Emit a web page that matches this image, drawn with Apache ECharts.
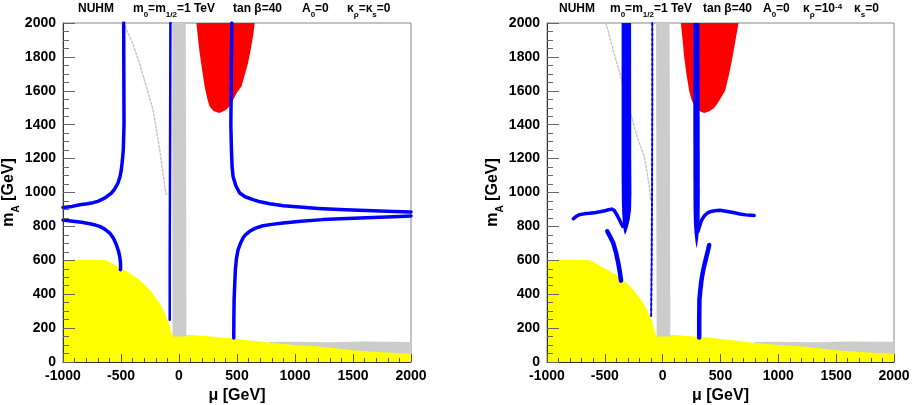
<!DOCTYPE html>
<html><head><meta charset="utf-8">
<script src="https://cdn.jsdelivr.net/npm/echarts@6/dist/echarts.min.js"></script>
<style>html,body{margin:0;padding:0;background:#fff}#c{width:912px;height:405px}</style>
</head><body><div id="c"></div>
<script>
// ---------- data (mu [GeV], mA [GeV]) ----------
const xTicks = [-1000, -500, 0, 500, 1000, 1500, 2000];
const yTicks = [0, 200, 400, 600, 800, 1000, 1200, 1400, 1600, 1800, 2000];

// yellow excluded region (same in both panels)
const yellowRegion = [[-1000,0],[-1000,602],[-640,602],[-600,592],[-554,574],[-510,555],[-468,541],[-425,524],[-382,505],[-340,482],[-296,456],[-250,424],[-209,387],[-180,360],[-152,328],[-130,300],[-109,269],[-92,240],[-80,210],[-70,185],[-60,161],[100,160],[250,152],[466,138],[600,128],[782,113],[1000,100],[1241,90],[1500,70],[1750,58],[2000,48],[2000,0]];

// left panel (kappa_rho = 0)
const greyBandL = [[-58,2000],[58,2000],[62,1000],[64,150],[-55,150],[-57,1000]];
const greyBottomL = [[775,60],[775,118],[1000,119],[1300,116],[1600,121],[2000,118],[2000,40]];
const redL = [[150,2000],[165,1900],[178,1823],[200,1720],[221,1626],[245,1550],[264,1508],[300,1480],[350,1469],[400,1485],[440,1510],[455,1530],[466,1545],[500,1590],[538,1626],[570,1700],[595,1764],[620,1850],[638,1921],[653,2000]];
const greyDiagL = [[-477,2000],[-400,1880],[-339,1760],[-280,1620],[-224,1488],[-166,1253],[-123,1036],[-110,990]];
const blueL_upper = [[-1000,912],[-920,918],[-856,928],[-790,934],[-741,940],[-700,948],[-655,962],[-620,977],[-583,997],[-555,1020],[-526,1056],[-508,1095],[-497,1135],[-488,1190],[-480,1253],[-474,1400],[-475,1600],[-476,1800],[-477,2000]];
const blueL_lower = [[-1000,838],[-914,830],[-840,824],[-770,816],[-720,808],[-684,800],[-640,784],[-597,761],[-565,730],[-540,692],[-522,655],[-511,623],[-505,590],[-503,555],[-505,545]];
const blueL_vert = [[-74,2000],[-76,1500],[-78,1000],[-80,600],[-80,250]];
const blueL_rightUpper = [[455,2000],[452,1800],[450,1600],[447,1400],[452,1253],[458,1150],[466,1095],[490,1040],[523,997],[570,975],[638,958],[700,945],[782,934],[900,922],[1040,914],[1200,906],[1385,899],[1550,895],[1672,893],[1850,888],[2000,885]];
const blueL_rightLower = [[2000,862],[1850,857],[1672,853],[1450,846],[1241,840],[1050,830],[897,820],[800,812],[724,804],[660,790],[609,771],[575,752],[552,732],[530,700],[509,662],[495,610],[486,545],[480,450],[475,368],[473,250],[472,142]];

// right panel (kappa_rho = 1e-4)
const greyBandR = [[-57,2000],[60,2000],[64,1000],[66,150],[-52,150],[-55,1000]];
const greyBottomR = [[790,60],[790,118],[1000,120],[1300,116],[1600,121],[2000,119],[2000,40]];
const redR = [[157,2000],[172,1900],[186,1800],[205,1700],[229,1600],[248,1550],[264,1525],[290,1500],[320,1480],[359,1469],[400,1478],[440,1495],[470,1520],[505,1560],[540,1600],[575,1700],[604,1800],[630,1900],[656,2000]];
const greyDiagR = [[-490,2000],[-420,1820],[-346,1646],[-290,1500],[-231,1351],[-190,1270],[-160,1213],[-135,1120],[-116,1036],[-105,960]];
const blueR_bandLeft = [[-355,2000],[-355,1100],[-353,950],[-350,880],[-344,820],[-336,775],[-326,750],[-314,768],[-300,800],[-285,840],[-273,900],[-270,1000],[-272,1200],[-273,2000]];
const blueR_wingLeft = [[-773,845],[-745,860],[-721,869],[-680,874],[-635,877],[-590,881],[-542,886],[-500,892],[-470,898],[-441,902],[-420,895],[-398,871],[-378,845],[-360,820],[-345,800]];
const blueR_lowerLeft = [[-479,771],[-455,740],[-427,702],[-405,650],[-384,584],[-370,530],[-360,480]];
const blueR_dotted = [[-90,2000],[-90,1500],[-92,1000],[-95,600],[-98,400],[-100,260]];
const blueR_bandRight = [[266,2000],[265,1400],[266,1000],[267,900],[270,820],[276,760],[285,705],[293,670],[300,695],[308,740],[316,790],[320,850],[321,1000],[320,1400],[318,2000]];
const blueR_wingRight = [[305,770],[318,800],[335,835],[360,862],[385,878],[408,886],[450,892],[494,895],[560,888],[620,880],[667,873],[720,868],[760,866],[790,864]];
const blueR_lowerRight = [[316,145],[316,250],[318,368],[325,420],[335,480],[347,530],[360,570],[378,620],[393,662],[402,690]];

// ---------- styling ----------
const FONT = "'Liberation Sans', Arial, Helvetica, sans-serif";
const YEL = '#ffff00', GREY = '#cccccc', RED = '#ff0000', BLUE = '#0000ff';

function poly(g, pts, color, z) {
  return {
    type: 'custom', coordinateSystem: 'cartesian2d', xAxisIndex: g, yAxisIndex: g,
    data: pts, z: z, silent: true, animation: false,
    renderItem: function (params, api) {
      if (params.dataIndex !== 0) return null;
      return { type: 'polygon', shape: { points: pts.map(p => api.coord(p)) },
               style: { fill: color, stroke: null } };
    }
  };
}
function line(g, pts, color, w, z, type, smooth) {
  return {
    type: 'line', xAxisIndex: g, yAxisIndex: g, data: pts, z: z, silent: true,
    symbol: 'none', showSymbol: false, animation: false, smooth: smooth || 0,
    lineStyle: { color: color, width: w, type: type || 'solid', cap: 'round', join: 'round' }
  };
}

const grids = [
  { left: 63, top: 23, width: 348, height: 339 },
  { left: 547, top: 23, width: 347, height: 339 }
];

function xAxisDef(g) {
  return {
    gridIndex: g, type: 'value', min: -1000, max: 2000, interval: 500, z: 10,
    name: 'μ [GeV]', nameLocation: 'middle', nameGap: 21,
    nameTextStyle: { fontFamily: FONT, fontWeight: 'bold', fontSize: 16, color: '#000' },
    axisLine: { show: true, onZero: false, lineStyle: { color: '#333', width: 1 } },
    axisTick: { show: true, inside: true, length: 8, lineStyle: { color: '#555' } },
    minorTick: { show: true, splitNumber: 5, length: 4, lineStyle: { color: '#555' } },
    splitLine: { show: false },
    axisLabel: { fontFamily: FONT, fontWeight: 'bold', fontSize: 14, color: '#000', margin: 7,
                 formatter: v => String(v) }
  };
}
function yAxisDef(g) {
  return {
    gridIndex: g, type: 'value', min: 0, max: 2000, interval: 200, z: 10,
    name: '{m|m}{s|A}{m| [GeV]}', nameLocation: 'middle', nameGap: 40,
    nameTextStyle: { color: '#000', rich: {
      m: { fontFamily: FONT, fontWeight: 'bold', fontSize: 16, lineHeight: 17, verticalAlign: 'top', color: '#000' },
      s: { fontFamily: FONT, fontWeight: 'bold', fontSize: 10, lineHeight: 10, padding: [10, 0, 0, 0], verticalAlign: 'top', color: '#000' }
    } },
    axisLine: { show: true, onZero: false, lineStyle: { color: '#333', width: 1 } },
    axisTick: { show: true, inside: true, length: 12, lineStyle: { color: '#666' } },
    minorTick: { show: true, splitNumber: 4, length: 6, lineStyle: { color: '#666' } },
    splitLine: { show: false },
    axisLabel: { fontFamily: FONT, fontWeight: 'bold', fontSize: 14, color: '#000', margin: 7,
                 formatter: v => String(v) }
  };
}

const R = {
  b: { fontFamily: FONT, fontWeight: 'bold', fontSize: 12, lineHeight: 14, verticalAlign: 'top', color: '#000' },
  s: { fontFamily: FONT, fontWeight: 'bold', fontSize: 8, lineHeight: 8, padding: [8, 0, 0, 0], verticalAlign: 'top', color: '#000' },
  u: { fontFamily: FONT, fontWeight: 'bold', fontSize: 8, lineHeight: 8, padding: [0, 0, 0, 0], verticalAlign: 'top', color: '#000' }
};
function label(text, left) {
  return { text: text, left: left, top: 3, padding: 0, itemGap: 0, textStyle: { rich: R, fontSize: 12 } };
}
const titles = [
  label('{b|NUHM}', 78),
  label('{b|m}{s|0}{b|=m}{s|1/2}{b|=1 TeV}', 133),
  label('{b|tan β=40}', 233),
  label('{b|A}{s|0}{b|=0}', 302),
  label('{b|κ}{s|ρ}{b|=κ}{s|s}{b|=0}', 347),
  label('{b|NUHM}', 559),
  label('{b|m}{s|0}{b|=m}{s|1/2}{b|=1 TeV}', 610),
  label('{b|tan β=40}', 703),
  label('{b|A}{s|0}{b|=0}', 763),
  label('{b|κ}{s|ρ}{b|=10}{u|-4}', 803),
  label('{b|κ}{s|s}{b|=0}', 854)
];

const series = [
  // left panel
  poly(0, greyBottomL, GREY, 1),
  poly(0, yellowRegion, YEL, 2),
  poly(0, greyBandL, GREY, 3),
  poly(0, redL, RED, 3),
  line(0, greyDiagL, '#c8c8c8', 1.5, 4, [2, 2]),
  line(0, blueL_vert, BLUE, 2.5, 5),
  line(0, blueL_upper, BLUE, 3.5, 5),
  line(0, blueL_lower, BLUE, 3.5, 5),
  line(0, blueL_rightUpper, BLUE, 3.5, 5),
  line(0, blueL_rightLower, BLUE, 3.5, 5),
  // right panel
  poly(1, greyBottomR, GREY, 1),
  poly(1, yellowRegion, YEL, 2),
  poly(1, greyBandR, GREY, 3),
  poly(1, redR, RED, 3),
  line(1, greyDiagR, '#c8c8c8', 1.5, 4, [2, 2]),
  line(1, blueR_dotted, BLUE, 2, 5, [3, 2]),
  poly(1, blueR_bandLeft, BLUE, 5),
  poly(1, blueR_bandRight, BLUE, 5),
  line(1, blueR_wingLeft, BLUE, 3.5, 5),
  line(1, blueR_lowerLeft, BLUE, 4.5, 5),
  line(1, blueR_wingRight, BLUE, 3.5, 5),
  line(1, blueR_lowerRight, BLUE, 4.5, 5)
];

const chart = echarts.init(document.getElementById('c'), null, { renderer: 'canvas' });
chart.setOption({
  animation: false,
  backgroundColor: '#fff',
  title: titles,
  grid: grids.map(g => Object.assign({ show: true, borderColor: '#888', borderWidth: 1,
    backgroundColor: 'transparent', containLabel: false, outerBoundsMode: 'none' }, g)),
  xAxis: [xAxisDef(0), xAxisDef(1)],
  yAxis: [yAxisDef(0), yAxisDef(1)],
  series: series
});
</script>
</body></html>
